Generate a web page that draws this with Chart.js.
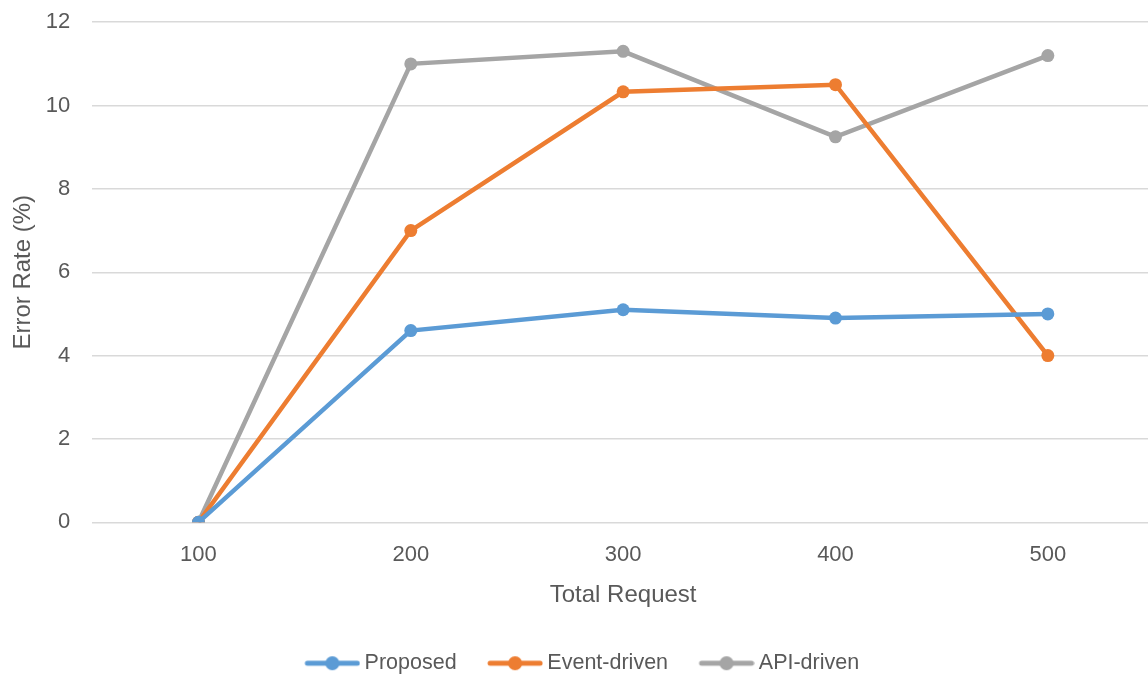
<!DOCTYPE html>
<html>
<head>
<meta charset="utf-8">
<script src="https://cdn.jsdelivr.net/npm/chart.js@4"></script>
<style>
  html, body { margin: 0; padding: 0; background: #fff; overflow: hidden; }
  #wrap { position: relative; top: -13px; width: 1162px; height: 688px; }
</style>
</head>
<body>
<div id="wrap"><canvas id="errorChart"></canvas></div>
<script>
// values
const categories = ['100', '200', '300', '400', '500'];
const proposed = [0, 4.6, 5.1, 4.9, 5.0];
const eventDriven = [0, 7.0, 10.33, 10.5, 4.0];
const apiDriven = [0, 11.0, 11.3, 9.25, 11.2];

const seriesNames = ['Proposed', 'Event-driven', 'API-driven'];
const seriesColors = ['#5B9BD5', '#ED7D31', '#A5A5A5'];

const FONT = "'Liberation Sans', Arial, sans-serif";
const TEXT = '#595959';

// small line + dot picture for the legend, like the office style.
// the mark sits a bit right of the image centre so the text gap stays small
function legendMark(color) {
  const c = document.createElement('canvas');
  c.width = 66;
  c.height = 16;
  const g = c.getContext('2d');
  const x0 = 10.5;
  g.strokeStyle = color;
  g.lineWidth = 5;
  g.lineCap = 'round';
  g.beginPath();
  g.moveTo(x0 + 2.5, 8);
  g.lineTo(x0 + 52.5, 8);
  g.stroke();
  g.fillStyle = color;
  g.beginPath();
  g.arc(x0 + 27.5, 8, 7, 0, Math.PI * 2);
  g.fill();
  return c;
}

function makeSet(i, data) {
  return {
    label: seriesNames[i],
    data: data,
    borderColor: seriesColors[i],
    backgroundColor: seriesColors[i],
    borderWidth: 4.5,
    pointRadius: 6.5,
    pointHoverRadius: 6.5,
    pointBorderWidth: 0,
    tension: 0
  };
}

const ctx = document.getElementById('errorChart').getContext('2d');
new Chart(ctx, {
  type: 'line',
  data: {
    labels: categories,
    datasets: [makeSet(0, proposed), makeSet(1, eventDriven), makeSet(2, apiDriven)]
  },
  options: {
    responsive: true,
    maintainAspectRatio: false,
    animation: false,
    layout: { padding: { left: 6, right: 8, top: 0, bottom: -9 } },
    plugins: {
      tooltip: { enabled: false },
      legend: {
        position: 'bottom',
        labels: {
          usePointStyle: true,
          pointStyleWidth: 53,
          padding: 27,
          color: TEXT,
          font: { family: FONT, size: 21.5 },
          generateLabels: chart => {
            const items = Chart.defaults.plugins.legend.labels.generateLabels(chart);
            items.forEach((it, i) => { it.pointStyle = legendMark(seriesColors[i]); });
            return items;
          }
        }
      }
    },
    scales: {
      x: {
        offset: true,
        grid: { display: false, drawTicks: false },
        border: { display: false },
        ticks: { color: TEXT, font: { family: FONT, size: 22 }, padding: 19 },
        title: {
          display: true,
          text: 'Total Request',
          color: TEXT,
          font: { family: FONT, size: 24 },
          padding: { top: -6, bottom: 16 }
        }
      },
      y: {
        min: 0,
        max: 12,
        ticks: { stepSize: 2, color: TEXT, font: { family: FONT, size: 22 }, padding: 22 },
        grid: { color: '#D9D9D9', lineWidth: 1.5, drawTicks: false },
        border: { display: false },
        title: {
          display: true,
          text: 'Error Rate (%)',
          color: TEXT,
          font: { family: FONT, size: 24 },
          padding: { top: 3, bottom: -14 }
        }
      }
    }
  }
});
</script>
</body>
</html>
